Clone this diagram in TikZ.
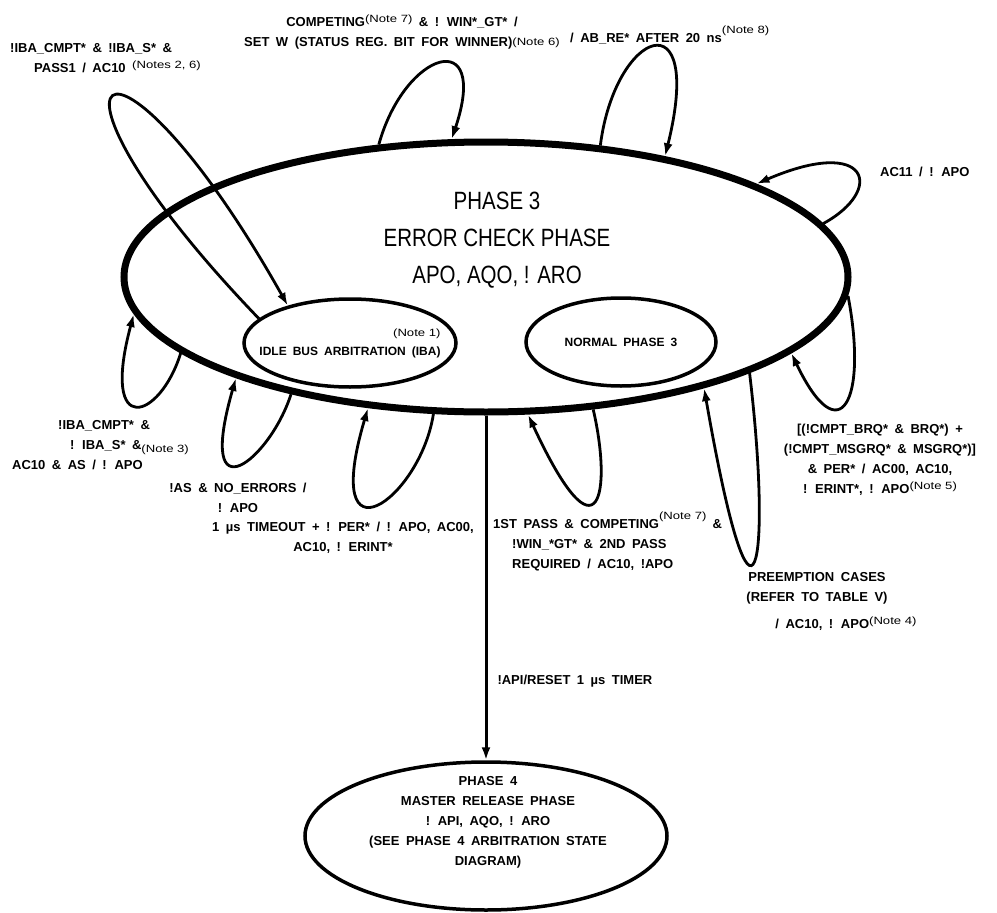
\documentclass[tikz,border=0pt]{standalone}
\usepackage{fontspec}
\setmainfont{Liberation Sans}[WordSpace=1.8]
\newfontfamily\ttlfont{Liberation Sans}[FakeStretch=0.82]
\newfontfamily\notefont{Liberation Sans}[FakeStretch=1.25]
\usetikzlibrary{arrows.meta}
\usetikzlibrary{shapes.geometric}

\newcommand{\lblfont}{\bfseries\fontsize{13}{20}\selectfont}
\newcommand{\nt}[2][0.6ex]{\raisebox{#1}{\notefont\mdseries\fontsize{10.5}{12}\selectfont(#2)}}

\tikzset{
	phase/.style={draw, ellipse, line width=3.5pt, inner sep=0pt, align=center, font=\lblfont},
	bigphase/.style={phase, line width=7pt},
	selfarc/.style={line width=2.8pt, ->},
	lbl/.style={inner sep=0pt, font=\lblfont}
}

\begin{document}
\begin{tikzpicture}[x=1pt, y=-1pt, >={Latex[length=13pt, width=9pt]}]
	\useasboundingbox (0,0) rectangle (997,913);

	% --- phase 3 ---
	\node[bigphase, minimum width=724pt, minimum height=270pt] (p3) at (486,277) {};
	\node[lbl, font=\ttlfont\fontsize{25}{37}\selectfont, align=center] (ttl) at (497,240) {PHASE 3\\ERROR CHECK PHASE\\APO, AQO, ! ARO};
	\node[phase, minimum width=212pt, minimum height=88pt, inner xsep=-16pt, font=\bfseries\fontsize{12}{19}\selectfont, align=right] (iba) at (350,343) {\nt[0pt]{Note 1}\\IDLE BUS ARBITRATION (IBA)};
	\node[phase, minimum width=190pt, minimum height=88pt, font=\bfseries\fontsize{12}{19}\selectfont] (norm) at (621,342) {NORMAL PHASE 3};

	% --- phase 4 ---
	\node[phase, minimum width=362pt, minimum height=148pt] (p4) at (486,836) {};
	\node[lbl, align=center] (p4txt) at (488,822) {PHASE 4\\MASTER RELEASE PHASE\\! API, AQO, ! ARO\\(SEE PHASE 4 ARBITRATION STATE\\DIAGRAM)};

	\draw[->, line width=3pt] (p3.south) -- node[lbl, right=10pt, pos=0.77] (rst) {!API/RESET 1 µs TIMER} (p4.north);

	% --- self transitions ---
	\draw[selfarc] (iba.165) .. controls (10,60) and (110,-10) .. (iba.149);
	\draw[selfarc] (p3.129) .. controls (405,50) and (490,25) .. (p3.104);
	\draw[selfarc] (p3.49) .. controls (615,30) and (705,-5) .. (p3.34);
	\draw[selfarc] (p3.9) .. controls (885,190) and (870,135) .. (p3.19);
	\draw[selfarc] (p3.-3) .. controls (868,400) and (840,455) .. (p3.-14);
	\draw[selfarc] (p3.-20) .. controls (772,560) and (755,680) .. (p3.-27);
	\draw[selfarc] (p3.-51) .. controls (612,490) and (600,570) .. (p3.-73);
	\draw[selfarc] (p3.-111) .. controls (420,500) and (320,570) .. (p3.-132);
	\draw[selfarc] (p3.-149) .. controls (270,460) and (195,520) .. (p3.-158);
	\draw[selfarc] (p3.-166) .. controls (160,420) and (100,440) .. (p3.-174);

	% --- conditions ---
	\node[lbl, anchor=north west, align=left] (pass) at (10,43) {!IBA\_CMPT* \& !IBA\_S* \&\\\hspace*{24pt}PASS1 / AC10 \nt{Notes 2, 6}};
	\node[lbl, anchor=north, align=center] (cmpt) at (402,15) {COMPETING\nt{Note 7} \& ! WIN*\_GT* /\\SET W (STATUS REG. BIT FOR WINNER)\nt[0.2ex]{Note 6}};
	\node[lbl, anchor=west] (abre) at (570,35) {/ AB\_RE* AFTER 20 ns\nt[1.4ex]{Note 8}};
	\node[lbl, anchor=west] (ac11) at (880,172) {AC11 / ! APO};
	\node[lbl, anchor=north, align=center] (brq) at (880,424) {[(!CMPT\_BRQ* \& BRQ*) +\\(!CMPT\_MSGRQ* \& MSGRQ*)]\\\& PER* / AC00, AC10,\\! ERINT*, ! APO\nt{Note 5}};
	\node[lbl, anchor=north, align=center] (pre) at (817,572) {PREEMPTION CASES\\(REFER TO TABLE V)\\[7pt]\hspace*{58pt}/ AC10, ! APO\nt{Note 4}};
	\node[lbl, anchor=north west, align=left] (fst) at (493,512) {1ST PASS \& COMPETING\nt[1.2ex]{Note 7}\hspace{6pt}\&\\\hspace*{19pt}!WIN\_*GT* \& 2ND PASS\\\hspace*{19pt}REQUIRED / AC10, !APO};
	\node[lbl, anchor=north, align=center] (tmo) at (343,522) {1 µs TIMEOUT + ! PER* / ! APO, AC00,\\AC10, ! ERINT*};
	\node[lbl, anchor=north, align=center] (noerr) at (238,483) {!AS \& NO\_ERRORS /\\! APO};
	\node[lbl, anchor=north west, align=left] (ibas) at (12,420) {\hspace*{46pt}!IBA\_CMPT* \&\\\hspace*{58pt}! IBA\_S* \&\nt[-0.4ex]{Note 3}\\AC10 \& AS / ! APO};

\end{tikzpicture}
\end{document}
